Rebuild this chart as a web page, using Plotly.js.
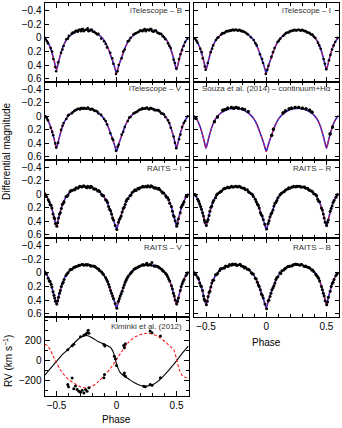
<!DOCTYPE html>
<html>
<head>
<meta charset="utf-8">
<script src="https://cdn.plot.ly/plotly-3.0.1.min.js"></script>
<style>
  html, body { margin: 0; padding: 0; background: #fff; }
  #chart { width: 342px; height: 428px; }
</style>
</head>
<body>
<div id="chart"></div>
<script>
// light curve model (red solid / blue dashed solutions)
const modelPhase = [-0.6, -0.575, -0.55, -0.525, -0.5125, -0.5, -0.4875, -0.475, -0.45, -0.425, -0.4, -0.375, -0.35, -0.325, -0.3, -0.275, -0.25, -0.225, -0.2, -0.175, -0.15, -0.125, -0.1, -0.075, -0.05, -0.025, -0.0125, 0, 0.0125, 0.025, 0.05, 0.075, 0.1, 0.125, 0.15, 0.175, 0.2, 0.225, 0.25, 0.275, 0.3, 0.325, 0.35, 0.375, 0.4, 0.425, 0.45, 0.475, 0.4875, 0.5, 0.5125, 0.525, 0.55, 0.575, 0.6];
const modelMag = [-0.01, 0.05, 0.15, 0.30, 0.39, 0.47, 0.39, 0.30, 0.15, 0.05, -0.01, -0.05, -0.077, -0.097, -0.11, -0.114, -0.115, -0.11, -0.10, -0.078, -0.05, -0.01, 0.045, 0.13, 0.25, 0.375, 0.45, 0.52, 0.45, 0.375, 0.25, 0.13, 0.045, -0.01, -0.05, -0.078, -0.10, -0.11, -0.115, -0.114, -0.11, -0.097, -0.077, -0.05, -0.01, 0.05, 0.15, 0.30, 0.39, 0.47, 0.39, 0.30, 0.15, 0.05, -0.01];

// iTelescope observations (B, V, I share phases), two nights
const itPhase = [-0.592, -0.571, -0.548, -0.527, -0.503, -0.486, -0.462, -0.441, -0.418, -0.397, -0.374, -0.352, -0.331, -0.312, -0.296, -0.281, -0.266, -0.248, -0.233, -0.214, -0.196, -0.173, -0.151, -0.128, -0.104, -0.079, -0.052, -0.027, -0.004, 0.018, 0.043, 0.069, 0.094, 0.117, 0.141, 0.163, 0.186, 0.207, 0.226, 0.244, 0.263, 0.281, 0.299, 0.318, 0.339, 0.361, 0.384, 0.407, 0.429, 0.452, 0.476, 0.498, 0.521, 0.546, 0.572, 0.594];
const itB = [0.02, 0.08, 0.15, 0.31, 0.49, 0.36, 0.22, 0.12, 0.02, -0.03, -0.06, -0.08, -0.11, -0.12, -0.10, -0.13, -0.11, -0.12, -0.10, -0.12, -0.09, -0.07, -0.06, 0.01, 0.05, 0.14, 0.22, 0.38, 0.53, 0.40, 0.30, 0.17, 0.05, 0.0, -0.05, -0.07, -0.09, -0.11, -0.12, -0.10, -0.12, -0.13, -0.10, -0.11, -0.08, -0.06, -0.03, 0.02, 0.08, 0.15, 0.32, 0.45, 0.31, 0.18, 0.06, 0.01];
const itV = [0.0, 0.06, 0.17, 0.28, 0.46, 0.39, 0.20, 0.10, 0.04, -0.02, -0.04, -0.08, -0.10, -0.11, -0.12, -0.11, -0.12, -0.11, -0.12, -0.10, -0.10, -0.08, -0.04, -0.02, 0.04, 0.12, 0.25, 0.35, 0.51, 0.42, 0.27, 0.16, 0.07, 0.01, -0.04, -0.06, -0.09, -0.10, -0.11, -0.12, -0.11, -0.12, -0.11, -0.09, -0.09, -0.07, -0.04, 0.01, 0.06, 0.17, 0.30, 0.47, 0.34, 0.16, 0.07, 0.0];
const itI = [0.01, 0.07, 0.16, 0.30, 0.47, 0.37, 0.21, 0.11, 0.03, -0.01, -0.05, -0.07, -0.10, -0.10, -0.11, -0.12, -0.11, -0.12, -0.11, -0.11, -0.10, -0.08, -0.05, -0.01, 0.03, 0.11, 0.24, 0.37, 0.53, 0.41, 0.28, 0.15, 0.06, 0.01, -0.03, -0.07, -0.08, -0.10, -0.11, -0.11, -0.12, -0.11, -0.12, -0.10, -0.08, -0.07, -0.05, 0.0, 0.07, 0.16, 0.31, 0.46, 0.33, 0.17, 0.06, 0.0];
const itPhase2 = [-0.58, -0.536, -0.51, -0.45, -0.405, -0.365, -0.342, -0.322, -0.304, -0.288, -0.274, -0.257, -0.24, -0.222, -0.205, -0.185, -0.16, -0.09, -0.035, 0.008, 0.056, 0.105, 0.152, 0.175, 0.196, 0.216, 0.235, 0.254, 0.272, 0.29, 0.309, 0.328, 0.35, 0.372, 0.395, 0.44, 0.487, 0.533, 0.56];
const itB2 = [0.05, 0.20, 0.43, 0.17, 0.01, -0.08, -0.10, -0.09, -0.12, -0.13, -0.10, -0.12, -0.14, -0.11, -0.12, -0.09, -0.05, 0.09, 0.30, 0.49, 0.20, 0.04, -0.06, -0.08, -0.11, -0.10, -0.13, -0.12, -0.11, -0.13, -0.09, -0.11, -0.07, -0.06, -0.01, 0.12, 0.37, 0.24, 0.12];
const itV2 = [0.03, 0.23, 0.40, 0.14, -0.01, -0.06, -0.09, -0.11, -0.10, -0.12, -0.12, -0.11, -0.13, -0.10, -0.11, -0.08, -0.07, 0.07, 0.33, 0.45, 0.23, 0.02, -0.05, -0.07, -0.10, -0.12, -0.11, -0.13, -0.10, -0.12, -0.10, -0.09, -0.09, -0.04, -0.03, 0.10, 0.39, 0.27, 0.10];
const itI2 = [0.04, 0.21, 0.42, 0.16, 0.0, -0.07, -0.08, -0.10, -0.11, -0.11, -0.12, -0.12, -0.11, -0.12, -0.10, -0.09, -0.06, 0.08, 0.31, 0.47, 0.21, 0.04, -0.05, -0.08, -0.10, -0.11, -0.12, -0.11, -0.12, -0.11, -0.11, -0.10, -0.08, -0.05, -0.02, 0.11, 0.38, 0.25, 0.11];

// Souza et al. (2014)
const souzaPhase = [-0.585, -0.43, -0.405, -0.36, -0.34, -0.32, -0.29, -0.27, -0.25, -0.23, -0.2, -0.18, -0.15, 0.045, 0.06, 0.14, 0.16, 0.19, 0.21, 0.24, 0.27, 0.3, 0.33, 0.36, 0.38, 0.53, 0.55];
const souzaMag = [0.03, 0.08, 0.01, -0.09, -0.10, -0.12, -0.13, -0.12, -0.13, -0.12, -0.11, -0.10, -0.07, 0.28, 0.19, -0.05, -0.08, -0.11, -0.12, -0.13, -0.13, -0.12, -0.11, -0.09, -0.06, 0.26, 0.16];

// RAITS observations (I, R, V, B share phases), two runs
const raitsPhase = [-0.598, -0.584, -0.569, -0.553, -0.538, -0.521, -0.509, -0.497, -0.483, -0.468, -0.452, -0.437, -0.421, -0.404, -0.388, -0.371, -0.355, -0.338, -0.322, -0.305, -0.289, -0.272, -0.256, -0.239, -0.223, -0.206, -0.19, -0.173, -0.157, -0.14, -0.124, -0.107, -0.091, -0.074, -0.058, -0.041, -0.025, -0.011, 0.003, 0.016, 0.031, 0.047, 0.064, 0.08, 0.097, 0.113, 0.13, 0.146, 0.163, 0.179, 0.196, 0.212, 0.229, 0.245, 0.262, 0.278, 0.295, 0.311, 0.328, 0.344, 0.361, 0.377, 0.394, 0.41, 0.427, 0.443, 0.458, 0.474, 0.489, 0.502, 0.516, 0.531, 0.547, 0.563, 0.579, 0.594];
const raitsI = [-0.01, 0.03, 0.08, 0.15, 0.20, 0.34, 0.43, 0.47, 0.35, 0.27, 0.15, 0.11, 0.03, 0.01, -0.04, -0.06, -0.07, -0.10, -0.09, -0.12, -0.11, -0.13, -0.11, -0.12, -0.10, -0.11, -0.08, -0.08, -0.05, -0.04, 0.0, 0.02, 0.08, 0.12, 0.22, 0.29, 0.38, 0.46, 0.52, 0.41, 0.35, 0.26, 0.19, 0.10, 0.06, 0.02, -0.03, -0.05, -0.06, -0.09, -0.10, -0.11, -0.11, -0.12, -0.13, -0.11, -0.12, -0.10, -0.10, -0.08, -0.07, -0.04, -0.02, 0.02, 0.05, 0.13, 0.18, 0.31, 0.39, 0.47, 0.36, 0.27, 0.16, 0.11, 0.03, 0.01];
const raitsR = [0.0, 0.02, 0.07, 0.14, 0.22, 0.32, 0.41, 0.46, 0.37, 0.25, 0.17, 0.09, 0.05, -0.01, -0.03, -0.05, -0.08, -0.09, -0.11, -0.10, -0.12, -0.11, -0.12, -0.11, -0.12, -0.10, -0.09, -0.07, -0.07, -0.03, -0.01, 0.03, 0.07, 0.14, 0.20, 0.30, 0.37, 0.44, 0.51, 0.43, 0.33, 0.27, 0.17, 0.12, 0.05, 0.01, -0.02, -0.04, -0.07, -0.08, -0.09, -0.11, -0.12, -0.11, -0.12, -0.12, -0.11, -0.11, -0.09, -0.09, -0.06, -0.05, -0.01, 0.0, 0.07, 0.11, 0.20, 0.29, 0.41, 0.46, 0.38, 0.25, 0.17, 0.09, 0.04, 0.0];
const raitsV = [-0.01, 0.02, 0.08, 0.13, 0.21, 0.33, 0.42, 0.46, 0.36, 0.26, 0.16, 0.10, 0.04, 0.0, -0.04, -0.05, -0.08, -0.09, -0.10, -0.11, -0.12, -0.11, -0.12, -0.12, -0.11, -0.10, -0.10, -0.08, -0.06, -0.03, -0.01, 0.03, 0.07, 0.13, 0.21, 0.30, 0.38, 0.45, 0.52, 0.42, 0.34, 0.27, 0.18, 0.11, 0.05, 0.02, -0.02, -0.05, -0.07, -0.08, -0.10, -0.11, -0.11, -0.12, -0.11, -0.12, -0.15, -0.10, -0.10, -0.09, -0.07, -0.05, -0.02, 0.01, 0.06, 0.12, 0.19, 0.30, 0.40, 0.46, 0.37, 0.26, 0.16, 0.10, 0.04, 0.0];
const raitsB = [0.0, 0.03, 0.07, 0.15, 0.20, 0.34, 0.41, 0.47, 0.35, 0.27, 0.15, 0.11, 0.03, 0.01, -0.03, -0.06, -0.07, -0.10, -0.09, -0.12, -0.11, -0.12, -0.13, -0.11, -0.12, -0.10, -0.09, -0.08, -0.05, -0.04, 0.0, 0.02, 0.08, 0.14, 0.20, 0.31, 0.37, 0.46, 0.53, 0.41, 0.35, 0.25, 0.19, 0.10, 0.06, 0.0, -0.03, -0.04, -0.07, -0.09, -0.10, -0.10, -0.12, -0.13, -0.12, -0.11, -0.12, -0.10, -0.10, -0.08, -0.07, -0.04, -0.02, 0.02, 0.06, 0.12, 0.20, 0.30, 0.41, 0.47, 0.36, 0.27, 0.16, 0.10, 0.04, 0.01];
const raitsPhase2 = [-0.591, -0.561, -0.545, -0.529, -0.515, -0.49, -0.475, -0.46, -0.444, -0.413, -0.38, -0.347, -0.313, -0.281, -0.248, -0.214, -0.181, -0.148, -0.115, -0.083, -0.066, -0.049, -0.033, 0.023, 0.039, 0.056, 0.072, 0.088, 0.121, 0.154, 0.187, 0.22, 0.253, 0.287, 0.32, 0.352, 0.385, 0.418, 0.435, 0.466, 0.481, 0.509, 0.539, 0.555, 0.587];
const raitsI2 = [0.02, 0.11, 0.16, 0.29, 0.36, 0.42, 0.29, 0.21, 0.13, 0.03, -0.06, -0.07, -0.11, -0.12, -0.10, -0.12, -0.08, -0.06, 0.02, 0.09, 0.18, 0.24, 0.35, 0.37, 0.32, 0.21, 0.15, 0.07, 0.01, -0.07, -0.08, -0.12, -0.11, -0.13, -0.09, -0.09, -0.02, 0.04, 0.08, 0.25, 0.33, 0.43, 0.19, 0.14, 0.03];
const raitsR2 = [0.0, 0.10, 0.18, 0.27, 0.38, 0.40, 0.31, 0.19, 0.12, 0.01, -0.04, -0.09, -0.10, -0.11, -0.12, -0.11, -0.09, -0.04, 0.0, 0.11, 0.16, 0.27, 0.32, 0.39, 0.29, 0.23, 0.13, 0.09, -0.01, -0.05, -0.10, -0.11, -0.12, -0.11, -0.11, -0.07, -0.04, 0.02, 0.10, 0.23, 0.35, 0.41, 0.21, 0.12, 0.01];
const raitsV2 = [0.01, 0.12, 0.17, 0.28, 0.37, 0.41, 0.30, 0.20, 0.14, 0.02, -0.05, -0.08, -0.11, -0.12, -0.11, -0.10, -0.09, -0.05, 0.01, 0.10, 0.17, 0.26, 0.34, 0.38, 0.31, 0.22, 0.14, 0.08, 0.0, -0.06, -0.09, -0.12, -0.14, -0.11, -0.10, -0.08, -0.03, 0.03, 0.09, 0.24, 0.34, 0.42, 0.20, 0.13, 0.02];
const raitsB2 = [0.02, 0.09, 0.19, 0.26, 0.39, 0.42, 0.29, 0.21, 0.11, 0.03, -0.06, -0.07, -0.10, -0.13, -0.11, -0.12, -0.07, -0.05, 0.02, 0.09, 0.18, 0.25, 0.33, 0.40, 0.30, 0.22, 0.15, 0.07, 0.01, -0.06, -0.09, -0.11, -0.12, -0.12, -0.09, -0.08, -0.04, 0.04, 0.08, 0.25, 0.34, 0.43, 0.20, 0.14, 0.02];

// radial velocities, Kiminki et al. (2012)
const rvModelPhase = [-0.6, -0.575, -0.55, -0.525, -0.5, -0.475, -0.45, -0.4, -0.35, -0.3, -0.25, -0.2, -0.15, -0.1, -0.05, -0.03, -0.015, 0, 0.015, 0.03, 0.05, 0.1, 0.15, 0.2, 0.25, 0.3, 0.35, 0.4, 0.425, 0.45, 0.475, 0.5, 0.525, 0.55, 0.575, 0.6];
const rvPrimary = [-146, -110, -75, -40, -5, 30, 65, 118, 180, 232, 252, 228, 190, 165, 135, 95, 40, -30, -80, -115, -140, -180, -218, -245, -252, -238, -200, -140, -108, -72, -36, 0, 40, 78, 115, 150];
const rvSecondary = [165, 150, 105, 40, -20, -75, -120, -185, -225, -258, -270, -250, -205, -145, -75, -40, -15, 15, 40, 70, 105, 185, 235, 262, 275, 268, 240, 195, 170, 140, 115, 20, -95, -150, -165, -170];
const rvObsPhase1 = [-0.406, -0.37, -0.356, -0.3, -0.272, -0.258, -0.245, -0.236, -0.23, -0.105, -0.097, -0.018, -0.009, 0.0, 0.06, 0.066, 0.074, 0.227, 0.24, 0.28, 0.296, 0.366];
const rvObs1 = [110, 150, 165, 240, 254, 264, 280, 304, 274, 164, 147, 45, 20, -46, -136, -120, -153, -252, -259, -236, -243, -169];
const rvObsPhase2 = [-0.406, -0.4, -0.37, -0.356, -0.342, -0.328, -0.314, -0.3, -0.286, -0.272, -0.258, -0.245, -0.23, -0.105, -0.1, 0.06, 0.066, 0.074, 0.28, 0.296, 0.366];
const rvObs2 = [-236, -259, -170, -279, -250, -286, -302, -312, -292, -319, -286, -302, -269, -169, -136, 154, 131, 170, 297, 280, 247];
const rvTicks = [-200, 0, 200];
const rvMinorTicks = [-300, -100, 100, 300, 400];

const panels = [
  {label: 'iTelescope \u2013 B', x: itPhase.concat(itPhase2), y: itB.concat(itB2), col: 0, row: 0, size: 2.6},
  {label: 'iTelescope \u2013 I', x: itPhase.concat(itPhase2), y: itI.concat(itI2), col: 1, row: 0, size: 2.6},
  {label: 'iTelescope \u2013 V', x: itPhase.concat(itPhase2), y: itV.concat(itV2), col: 0, row: 1, size: 2.6},
  {label: 'Souza et al. (2014) \u2013 continuum+H\u03b1', x: souzaPhase.slice(), y: souzaMag.slice(), col: 1, row: 1, size: 3.2},
  {label: 'RAITS \u2013 I', x: raitsPhase.concat(raitsPhase2), y: raitsI.concat(raitsI2), col: 0, row: 2, size: 3},
  {label: 'RAITS \u2013 R', x: raitsPhase.concat(raitsPhase2), y: raitsR.concat(raitsR2), col: 1, row: 2, size: 3},
  {label: 'RAITS \u2013 V', x: raitsPhase.concat(raitsPhase2), y: raitsV.concat(raitsV2), col: 0, row: 3, size: 3},
  {label: 'RAITS \u2013 B', x: raitsPhase.concat(raitsPhase2), y: raitsB.concat(raitsB2), col: 1, row: 3, size: 3}
];

const W = 342, H = 428;
const colX = [[44.5, 188.5], [194, 338.5]];
const rowY = [[3.3, 81.7], [81.7, 160], [160, 238], [238, 316.7], [316.7, 396]];
const labelY = [11, 89, 168, 248, 326];
const labelX = [184, 333];
const font = 'Liberation Sans, Arial, Helvetica, sans-serif';

const xDom = c => [colX[c][0] / W, colX[c][1] / W];
const yDom = r => [1 - rowY[r][1] / H, 1 - rowY[r][0] / H];
const sfx = n => (n === 1 ? '' : String(n));

const xAxis = (c, n, labels) => ({
  domain: xDom(c), range: [-0.6, 0.6], anchor: 'y' + sfx(n),
  showline: true, linecolor: '#000', linewidth: 1, mirror: 'allticks',
  ticks: 'inside', ticklen: 5, tickwidth: 1, tickcolor: '#000',
  tick0: 0, dtick: 0.5, showgrid: false, zeroline: false,
  minor: {dtick: 0.1, tick0: 0, ticks: 'inside', ticklen: 3, tickcolor: '#000', showgrid: false},
  showticklabels: labels, tickfont: {family: font, size: 10, color: '#000'}
});

const lineTraces = [];
const pointTraces = [];
const layout = {
  width: W, height: H,
  margin: {l: 0, r: 0, t: 0, b: 0},
  paper_bgcolor: '#fff', plot_bgcolor: 'rgba(0,0,0,0)',
  showlegend: false,
  font: {family: font, size: 10, color: '#000'},
  annotations: []
};

panels.forEach((p, i) => {
  const n = i + 1;
  const xa = 'x' + sfx(n);
  const ya = 'y' + sfx(n);
  lineTraces.push({x: modelPhase, y: modelMag, xaxis: xa, yaxis: ya, type: 'scatter', mode: 'lines',
    line: {color: '#2424d8', width: 1.6, shape: 'spline', smoothing: 0.6}});
  lineTraces.push({x: modelPhase, y: modelMag, xaxis: xa, yaxis: ya, type: 'scatter', mode: 'lines',
    line: {color: '#ff1a1a', width: 1, dash: '3px,2px', shape: 'spline', smoothing: 0.6}});
  pointTraces.push({x: p.x, y: p.y, xaxis: xa, yaxis: ya, type: 'scatter', mode: 'markers',
    marker: {color: '#000', size: p.size}});

  layout['xaxis' + sfx(n)] = xAxis(p.col, n, n === 8);
  layout['yaxis' + sfx(n)] = {
    domain: yDom(p.row), range: [0.645, -0.51], anchor: 'x' + sfx(n),
    showline: true, linecolor: '#000', linewidth: 1, mirror: 'allticks',
    ticks: 'inside', ticklen: 4, tickwidth: 1, tickcolor: '#000',
    tick0: 0, dtick: 0.2, showgrid: false, zeroline: false,
    showticklabels: p.col === 0, tickfont: {family: font, size: 10, color: '#000'}
  };
  layout.annotations.push({
    text: p.label, xref: 'paper', yref: 'paper',
    x: labelX[p.col] / W, y: 1 - labelY[p.row] / H,
    xanchor: 'right', yanchor: 'middle', showarrow: false,
    font: {family: font, size: 8, color: '#333'}
  });
});

// radial velocity panel
lineTraces.push({x: rvModelPhase, y: rvPrimary, xaxis: 'x9', yaxis: 'y9', type: 'scatter', mode: 'lines',
  line: {color: '#000', width: 1.1, shape: 'spline', smoothing: 0.8}});
lineTraces.push({x: rvModelPhase, y: rvSecondary, xaxis: 'x9', yaxis: 'y9', type: 'scatter', mode: 'lines',
  line: {color: '#ff1a1a', width: 1.1, dash: '3px,2px', shape: 'spline', smoothing: 0.8}});
pointTraces.push({x: rvObsPhase1.concat(rvObsPhase2), y: rvObs1.concat(rvObs2), xaxis: 'x9', yaxis: 'y9',
  type: 'scatter', mode: 'markers', marker: {color: '#000', size: 3}});

layout.xaxis9 = xAxis(0, 9, true);
layout.yaxis9 = {
  domain: yDom(4), range: [-350, 440], anchor: 'x9',
  showline: true, linecolor: '#000', linewidth: 1, mirror: 'allticks',
  ticks: 'inside', ticklen: 5, tickwidth: 1, tickcolor: '#000',
  tickmode: 'array', tickvals: rvTicks, showgrid: false, zeroline: false,
  minor: {tickmode: 'array', tickvals: rvMinorTicks, ticks: 'inside', ticklen: 3, tickcolor: '#000', showgrid: false},
  tickfont: {family: font, size: 10, color: '#000'}
};
layout.annotations.push({
  text: 'Kiminki et al. (2012)', xref: 'paper', yref: 'paper',
  x: labelX[0] / W, y: 1 - labelY[4] / H, xanchor: 'right', yanchor: 'middle',
  showarrow: false, font: {family: font, size: 8, color: '#333'}
});

// axis titles
const titles = [
  {text: 'Differential magnitude', x: 6, y: 151, angle: -90},
  {text: 'RV (km s<sup>\u22121</sup>)', x: 8, y: 361, angle: -90},
  {text: 'Phase', x: 116.5, y: 419, angle: 0},
  {text: 'Phase', x: 266.3, y: 342, angle: 0}
];
titles.forEach(t => layout.annotations.push({
  text: t.text, xref: 'paper', yref: 'paper', x: t.x / W, y: 1 - t.y / H,
  xanchor: 'center', yanchor: 'middle', textangle: t.angle, showarrow: false,
  font: {family: font, size: 10, color: '#000'}
}));

// Souza points also as pixel-sized dots anchored on the x4/y4 axes (the marker trace
// for this panel does not show up in the full grid)
layout.shapes = souzaPhase.map((ph, k) => ({
  type: 'circle', xref: 'x4', yref: 'y4', layer: 'above',
  xsizemode: 'pixel', ysizemode: 'pixel', xanchor: ph, yanchor: souzaMag[k],
  x0: -1.6, x1: 1.6, y0: -1.6, y1: 1.6,
  fillcolor: '#000', line: {width: 0}
}));

Plotly.newPlot('chart', lineTraces.concat(pointTraces), layout, {displayModeBar: false, staticPlot: true});
</script>
</body>
</html>
